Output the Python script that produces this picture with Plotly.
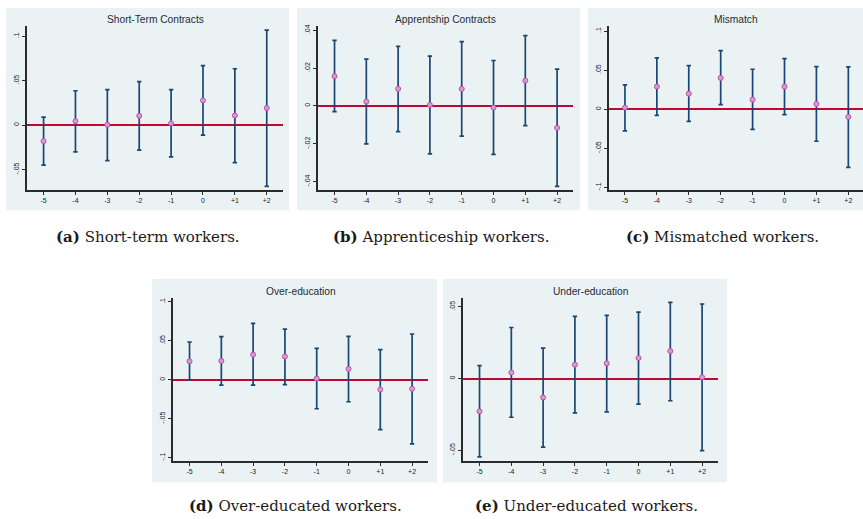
import plotly.graph_objects as go

# ---------------- data ----------------
periods = ["-5", "-4", "-3", "-2", "-1", "0", "+1", "+2"]

st_coef = [-0.0180, 0.0045, 0.0004, 0.0105, 0.0020, 0.0278, 0.0109, 0.0192]
st_hi   = [0.0090, 0.0387, 0.0400, 0.0489, 0.0400, 0.0669, 0.0635, 0.1070]
st_lo   = [-0.0450, -0.0300, -0.0400, -0.0280, -0.0357, -0.0113, -0.0421, -0.0690]

ap_coef = [0.0157, 0.0023, 0.0090, 0.0005, 0.0090, -0.0009, 0.0134, -0.0116]
ap_hi   = [0.0347, 0.0247, 0.0315, 0.0263, 0.0340, 0.0240, 0.0372, 0.0194]
ap_lo   = [-0.0030, -0.0201, -0.0136, -0.0254, -0.0160, -0.0256, -0.0104, -0.0425]

mm_coef = [0.0021, 0.0290, 0.0200, 0.0401, 0.0124, 0.0290, 0.0068, -0.0098]
mm_hi   = [0.0311, 0.0657, 0.0559, 0.0751, 0.0512, 0.0648, 0.0546, 0.0542]
mm_lo   = [-0.0277, -0.0077, -0.0154, 0.0060, -0.0256, -0.0068, -0.0409, -0.0742]

oe_coef = [0.0239, 0.0243, 0.0324, 0.0299, 0.0017, 0.0141, -0.0124, -0.0115]
oe_hi   = [0.0486, 0.0554, 0.0725, 0.0652, 0.0405, 0.0559, 0.0388, 0.0589]
oe_lo   = [-0.0004, -0.0068, -0.0068, -0.0060, -0.0371, -0.0281, -0.0640, -0.0823]

ue_coef = [-0.0229, 0.0042, -0.0132, 0.0097, 0.0106, 0.0143, 0.0192, 0.0009]
ue_hi   = [0.0090, 0.0356, 0.0212, 0.0434, 0.0441, 0.0464, 0.0531, 0.0520]
ue_lo   = [-0.0547, -0.0270, -0.0478, -0.0240, -0.0233, -0.0178, -0.0155, -0.0503]

titles = ["Short-Term Contracts", "Apprentship Contracts", "Mismatch",
          "Over-education", "Under-education"]
captions = ["<b>(a)</b> Short-term workers.", "<b>(b)</b> Apprenticeship workers.",
            "<b>(c)</b> Mismatched workers.", "<b>(d)</b> Over-educated workers.",
            "<b>(e)</b> Under-educated workers."]

ticks_a = [-0.05, 0, 0.05, 0.1]
ticktext_a = ["-.05", "0", ".05", ".1"]
ticks_b = [-0.04, -0.02, 0, 0.02, 0.04]
ticktext_b = ["-.04", "-.02", "0", ".02", ".04"]
ticks_c = [-0.1, -0.05, 0, 0.05, 0.1]
ticktext_c = ["-.1", "-.05", "0", ".05", ".1"]
ticks_d = [-0.1, -0.05, 0, 0.05, 0.1]
ticktext_d = ["-.1", "-.05", "0", ".05", ".1"]
ticks_e = [-0.05, 0, 0.05]
ticktext_e = ["-.05", "0", ".05"]

# ---------------- layout / style ----------------
W, H = 863, 519
BG = "#eaf2f3"
NAVY = "#1a476f"
RED = "#c10534"
AXC = "#2b2b2b"
TITLEC = "#1e2b38"


def fx(p):
    return p / W


def fy(p):
    return 1 - p / H


panels = [
    dict(coef=st_coef, hi=st_hi, lo=st_lo, tv=ticks_a, tt=ticktext_a,
         yr=[-0.0733, 0.1117], plot=(27, 283, 24, 189), box=(6, 289, 6, 209),
         xr=[-0.52, 7.51], cap=(148, 236)),
    dict(coef=ap_coef, hi=ap_hi, lo=ap_lo, tv=ticks_b, tt=ticktext_b,
         yr=[-0.0446, 0.0423], plot=(318, 573, 24, 189), box=(297, 580, 6, 209),
         xr=[-0.52, 7.5], cap=(441, 236)),
    dict(coef=mm_coef, hi=mm_hi, lo=mm_lo, tv=ticks_c, tt=ticktext_c,
         yr=[-0.1036, 0.1066], plot=(609, 863, 24, 189), box=(588, 863, 6, 209),
         xr=[-0.5, 7.46], cap=(722, 236)),
    dict(coef=oe_coef, hi=oe_hi, lo=oe_lo, tv=ticks_d, tt=ticktext_d,
         yr=[-0.1045, 0.1053], plot=(173, 428, 297, 461), box=(152, 437, 278, 482),
         xr=[-0.52, 7.5], cap=(295, 506)),
    dict(coef=ue_coef, hi=ue_hi, lo=ue_lo, tv=ticks_e, tt=ticktext_e,
         yr=[-0.0577, 0.0563], plot=(463, 718, 297, 461), box=(443, 727, 278, 482),
         xr=[-0.52, 7.5], cap=(586, 506)),
]

fig = go.Figure()
shapes = []
annotations = []
layout_axes = {}

for i, p in enumerate(panels):
    s = "" if i == 0 else str(i + 1)
    err_up = [h - c for h, c in zip(p["hi"], p["coef"])]
    err_dn = [c - l for c, l in zip(p["coef"], p["lo"])]
    fig.add_trace(go.Scatter(
        x=periods, y=p["coef"], mode="markers",
        xaxis="x" + s, yaxis="y" + s, showlegend=False,
        error_y=dict(type="data", symmetric=False, array=err_up, arrayminus=err_dn,
                     color=NAVY, thickness=1.7, width=2.2),
        marker=dict(symbol="circle", size=5, color="#dc98d6",
                    line=dict(color="#bb4fae", width=1)),
    ))
    x0, x1, y0, y1 = p["plot"]
    layout_axes["xaxis" + s] = dict(
        domain=[fx(x0), fx(x1)], anchor="y" + s, type="category",
        range=p["xr"], showgrid=False, zeroline=False,
        showline=True, linecolor=AXC, linewidth=1.5,
        ticks="outside", ticklen=3, tickcolor=AXC, tickwidth=1,
        tickfont=dict(family="Liberation Sans, Arial, sans-serif", size=7, color="#222"),
        fixedrange=True,
    )
    layout_axes["yaxis" + s] = dict(
        domain=[fy(y1), fy(y0)], anchor="x" + s, range=p["yr"],
        tickmode="array", tickvals=p["tv"], ticktext=p["tt"], tickangle=-90,
        showgrid=True, gridcolor=BG, gridwidth=1.5,
        zeroline=True, zerolinecolor=RED, zerolinewidth=1.5,
        showline=True, linecolor=AXC, linewidth=1.5,
        ticks="outside", ticklen=3, tickcolor=AXC, tickwidth=1,
        tickfont=dict(family="Liberation Sans, Arial, sans-serif", size=7, color="#222"),
        fixedrange=True,
    )
    bx0, bx1, by0, by1 = p["box"]
    shapes.append(dict(type="rect", xref="paper", yref="paper",
                       x0=fx(bx0), x1=fx(bx1), y0=fy(by1), y1=fy(by0),
                       fillcolor=BG, line=dict(width=0), layer="below"))
    annotations.append(dict(text=titles[i], xref="paper", yref="paper",
                            x=fx((x0 + x1) / 2), y=fy(y0 - 6.5), xanchor="center",
                            yanchor="middle", showarrow=False,
                            font=dict(family="Liberation Sans, Arial, sans-serif",
                                      size=10.2, color=TITLEC)))
    cx, cy = p["cap"]
    annotations.append(dict(text=captions[i], xref="paper", yref="paper",
                            x=fx(cx), y=fy(cy), xanchor="center", yanchor="middle",
                            showarrow=False,
                            font=dict(family="DejaVu Serif, serif", size=15, color="#1a1a1a")))

fig.update_layout(
    width=W, height=H, margin=dict(l=0, r=0, t=0, b=0),
    paper_bgcolor="white", plot_bgcolor="white",
    shapes=shapes, annotations=annotations, showlegend=False,
    **layout_axes,
)

fig.write_html("out.html", config={"displayModeBar": False},
               post_script="document.body.style.margin='0';"
                           "document.body.style.padding='0';"
                           "document.body.style.overflow='hidden';")
